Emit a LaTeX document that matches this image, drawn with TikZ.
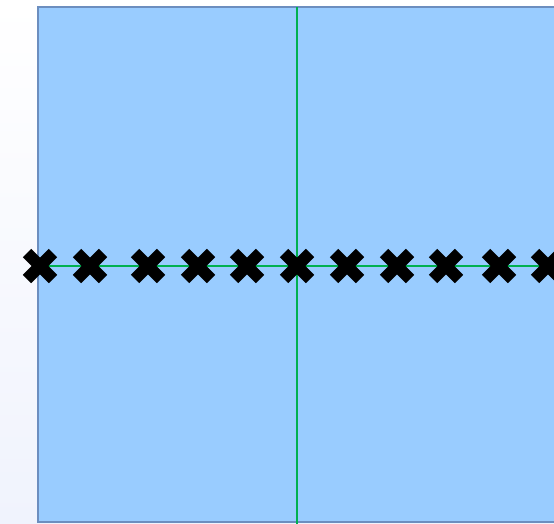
\documentclass[tikz,border=0pt]{standalone}
\usetikzlibrary{calc}

\definecolor{panelblue}{HTML}{99CCFF}
\definecolor{paneledge}{HTML}{6C8EBF}
\definecolor{axisgreen}{HTML}{00B050}
\definecolor{bgbottom}{HTML}{F0F3FD}

\tikzset{
  crossmark/.style={line width=12pt,line cap=butt,black},
  axisline/.style={axisgreen,line width=1.4pt}
}

\begin{document}
\begin{tikzpicture}[x=1pt,y=-1pt]

\def\w{554}
\def\h{524}
\def\a{13}

% Background
\shade[top color=white,bottom color=bgbottom] (0,0) rectangle (\w,\h);
\useasboundingbox (0,0) rectangle (\w,\h);

% Panel
\draw[fill=panelblue,draw=paneledge,line width=2.2pt] (38,7) rectangle (570,522);

% Axes
\coordinate (left) at (38,266);
\coordinate (right) at (\w,266);
\coordinate (top) at (297,7);
\coordinate (bottom) at (297,\h);
\draw[axisline] (left) -- (right);
\draw[axisline] (top) -- (bottom);

% Marks
\foreach \x [count=\i] in {40,90,148,198,247,297,347,397,446,499,548}
{
  \coordinate (m\i) at (\x,266);
  \draw[crossmark] ($(m\i)+(-\a,-\a)$) -- ($(m\i)+(\a,\a)$);
  \draw[crossmark] ($(m\i)+(-\a,\a)$) -- ($(m\i)+(\a,-\a)$);
}

\end{tikzpicture}
\end{document}
